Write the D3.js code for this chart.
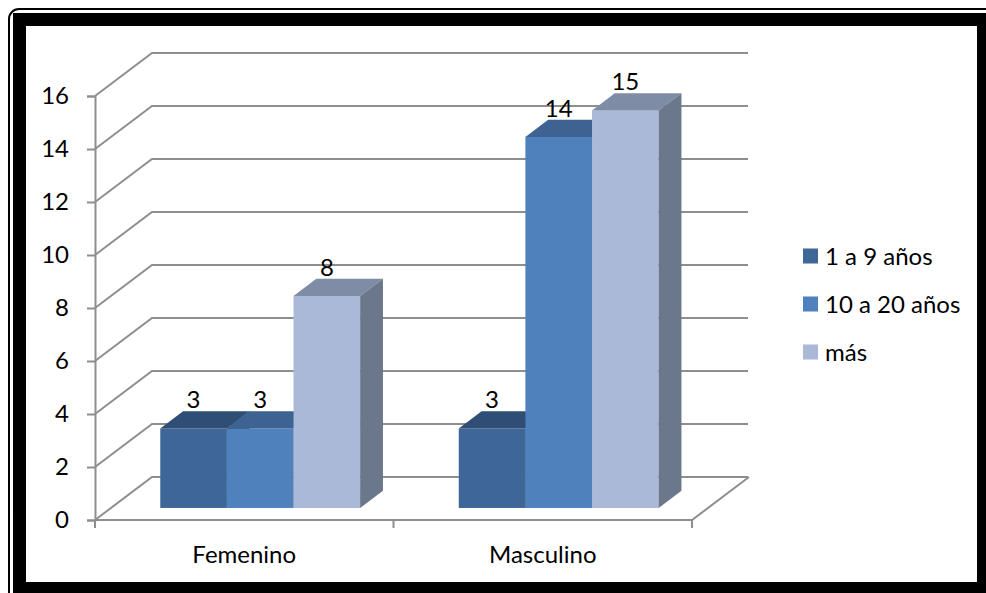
<!DOCTYPE html>
<html>
<head>
<meta charset="utf-8">
<script src="https://d3js.org/d3.v7.min.js"></script>
<style>
body {margin:0; background:white;}
text {font-family: Lato, "Open Sans", sans-serif; fill:#000;}
</style>
</head>
<body>
<svg width="986" height="593"></svg>
<script>
var categories = ["Femenino", "Masculino"];
var series = ["1 a 9 años", "10 a 20 años", "más"];
var values = {
  "1 a 9 años":   [3, 3],
  "10 a 20 años": [3, 14],
  "más":          [8, 15]
};
var yTicks = [0, 2, 4, 6, 8, 10, 12, 14, 16];

// front face, top face, right side
var colors = {
  "1 a 9 años":   ["#3E6797", "#2E4E76", "#2B4A70"],
  "10 a 20 años": ["#4F81BD", "#3C6391", "#3A5E8A"],
  "más":          ["#AAB9D7", "#7F8CA5", "#6B778A"]
};

var svg = d3.select("svg");

// frame
svg.append("rect").attr("x", 9).attr("y", 9).attr("width", 1000).attr("height", 600)
  .attr("rx", 10).attr("fill", "none").attr("stroke", "#000").attr("stroke-width", 2);
svg.append("rect").attr("x", 19.5).attr("y", 19.5).attr("width", 964).attr("height", 569)
  .attr("fill", "white").attr("stroke", "#000").attr("stroke-width", 13);

var x = d3.scaleBand().domain(categories).range([95, 692]);
var y = d3.scaleLinear().domain([0, 16]).range([520, 96]);
var xs = d3.scaleBand().domain(series).range([0, x.bandwidth()]).paddingOuter(0.74);

var depth = [57, -43];          // full wall depth
var bFront = 0.28, bBack = 0.68; // bar position in depth

var grid = svg.append("g");
var gridColor = "#8e8e8e";

// back wall gridlines
yTicks.forEach(function(t) {
  var y0 = y(t);
  grid.append("polyline")
    .attr("points", [[95, y0], [95 + depth[0], y0 + depth[1]], [748, y0 + depth[1]]].join(" "))
    .attr("fill", "none").attr("stroke", gridColor).attr("stroke-width", 2);
});
// floor
grid.append("polyline")
  .attr("points", [[95, y(0)], [692, y(0)], [692 + depth[0], y(0) + depth[1]]].join(" "))
  .attr("fill", "none").attr("stroke", gridColor).attr("stroke-width", 2);

// y axis
var yAxis = svg.append("g").attr("transform", "translate(95,0)")
  .call(d3.axisLeft(y).tickValues(yTicks).tickSize(8).tickPadding(18));
yAxis.selectAll("line, path").attr("stroke", gridColor).attr("stroke-width", 2);
yAxis.selectAll("text").style("font-size", "24px").style("font-family", "Lato");

// x axis ticks at band edges
var edges = [x.range()[0]].concat(categories.map(function(c) { return x(c) + x.bandwidth(); }));
svg.append("g").selectAll("line").data(edges).enter().append("line")
  .attr("x1", function(d) { return d; }).attr("x2", function(d) { return d; })
  .attr("y1", y(0)).attr("y2", y(0) + 8)
  .attr("stroke", gridColor).attr("stroke-width", 2);
svg.append("g").selectAll("text").data(categories).enter().append("text")
  .attr("x", function(d) { return x(d) + x.bandwidth() / 2; })
  .attr("y", 563)
  .attr("text-anchor", "middle")
  .style("font-size", "24px")
  .text(function(d) { return d; });

// bars
var fdx = depth[0] * bFront, fdy = depth[1] * bFront;
var ddx = depth[0] * (bBack - bFront), ddy = depth[1] * (bBack - bFront);
var bars = svg.append("g");
categories.forEach(function(c, ci) {
  series.forEach(function(s) {
    var v = values[s][ci];
    var x0 = x(c) + xs(s) + fdx, x1 = x0 + xs.bandwidth();
    var yb = y(0) + fdy, yt = y(v) + fdy;
    var col = colors[s];
    bars.append("rect").attr("x", x0).attr("y", yt).attr("width", x1 - x0).attr("height", yb - yt)
      .attr("fill", col[0]);
    bars.append("polygon")
      .attr("points", [[x0, yt], [x0 + ddx, yt + ddy], [x1 + ddx, yt + ddy], [x1, yt]].join(" "))
      .attr("fill", col[1]);
    bars.append("polygon")
      .attr("points", [[x1, yt], [x1 + ddx, yt + ddy], [x1 + ddx, yb + ddy], [x1, yb]].join(" "))
      .attr("fill", col[2]);
    bars.append("text")
      .attr("x", (x0 + x1) / 2)
      .attr("y", yt + ddy - 3)
      .attr("text-anchor", "middle")
      .style("font-size", "24px")
      .text(v);
  });
});

// legend
var legend = svg.append("g").selectAll("g").data(series).enter().append("g")
  .attr("transform", function(d, i) { return "translate(803," + (256 + i * 48) + ")"; });
legend.append("rect").attr("x", 0).attr("y", -7.5).attr("width", 15).attr("height", 15)
  .attr("fill", function(d) { return colors[d][0]; });
legend.append("text").attr("x", 22).attr("y", 8.5)
  .style("font-size", "24px")
  .text(function(d) { return d; });
</script>
</body>
</html>
